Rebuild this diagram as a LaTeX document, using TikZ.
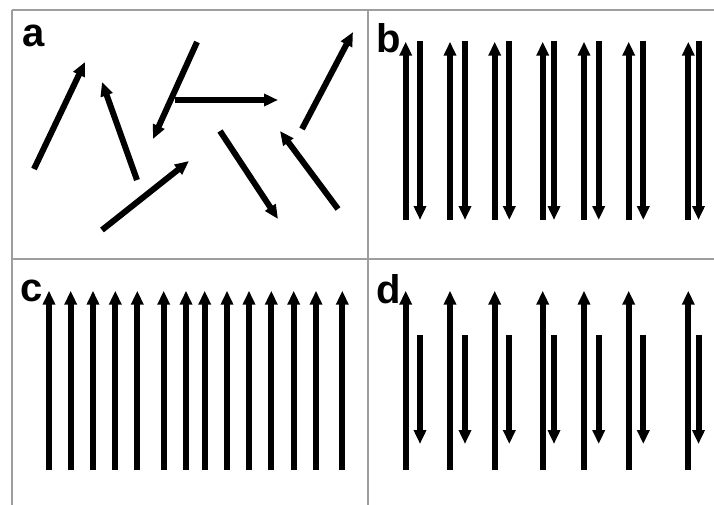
\documentclass[tikz,border=0pt]{standalone}
\usepackage{fontspec}
\setmainfont{Liberation Sans}
\usetikzlibrary{arrows.meta}
\begin{document}
\begin{tikzpicture}[x=1pt,y=-1pt,
  frameline/.style={draw=black!38, line width=1.5pt},
  vec/.style={line width=6pt, -{Triangle[length=14pt,width=12pt]}},
  lab/.style={anchor=base west, inner sep=0pt, font=\fontsize{40}{40}\selectfont\bfseries}]
\useasboundingbox (0,0) rectangle (714,505);
% frame
\draw[frameline] (12,10) -- (714,10);
\draw[frameline] (12,259) -- (714,259);
\draw[frameline] (12,10) -- (12,505);
\draw[frameline] (368,10) -- (368,505);
% labels
\node[lab] (la) at (22,47) {a};
\node[lab] (lb) at (376,53) {b};
\node[lab] (lc) at (20,301) {c};
\node[lab] (ld) at (376,303) {d};
% panel a
\draw[vec] (34,169) -- (85,62);
\draw[vec] (137,180) -- (102,82);
\draw[vec] (197,42) -- (153,139);
\draw[vec] (175,100) -- (278,100);
\draw[vec] (302,129) -- (353,32);
\draw[vec] (102,230) -- (189,161);
\draw[vec] (220,131) -- (278,219);
\draw[vec] (338,209) -- (280,131);
% panel b
\foreach \u/\d in {405.7/420, 450/465, 494.7/509.3, 542.7/554, 584/598.7, 628.7/643.3, 688.3/698.5}{
  \draw[vec] (\u,220) -- (\u,41.7);
  \draw[vec] (\d,40.7) -- (\d,220);
}
% panel c
\foreach \x in {49, 70.7, 93, 115.3, 137.3, 163.7, 186, 204.7, 227, 249, 271.3, 293.7, 316, 342.3}{
  \draw[vec] (\x,470) -- (\x,290.7);
}
% panel d
\foreach \u/\d in {405.7/420, 450/465, 494.7/509.3, 542.7/554, 584/598.7, 628.7/643.3, 688.3/698.5}{
  \draw[vec] (\u,470) -- (\u,290.7);
  \draw[vec] (\d,335) -- (\d,444);
}
\end{tikzpicture}
\end{document}
